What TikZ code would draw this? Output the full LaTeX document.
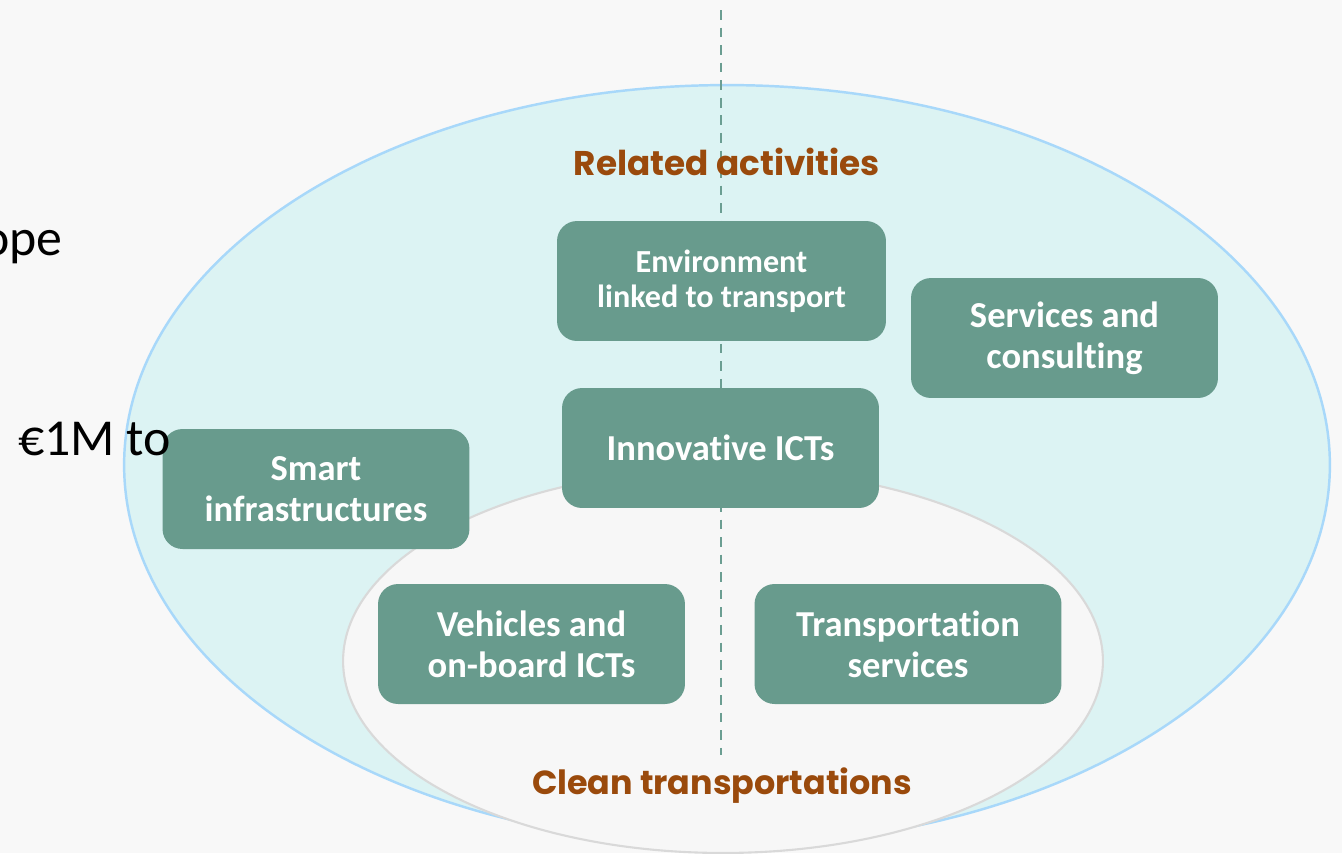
\documentclass[tikz,border=0pt]{standalone}
\usepackage{fontspec}
\setmainfont[Ligatures=NoCommon]{Carlito}
\newfontfamily\gothic{Poppins}
\definecolor{bgc}{HTML}{F8F8F8}
\definecolor{outerfill}{HTML}{DCF3F3}
\definecolor{outerline}{HTML}{A8D8FA}
\definecolor{innerfill}{HTML}{F7F7F7}
\definecolor{innerline}{HTML}{D9D9D9}
\definecolor{boxfill}{HTML}{689B8D}
\definecolor{dashc}{HTML}{6B9E92}
\definecolor{brownc}{HTML}{9A4A0C}
\tikzset{
  greenbox/.style={fill=boxfill, draw=none, rounded corners=0.4cm, text=white,
    font=\bfseries\fontsize{20.8}{23.2}\selectfont, align=center,
    minimum width=6.14cm, minimum height=2.4cm, inner sep=0pt},
  smallbox/.style={greenbox, font=\bfseries\fontsize{18.3}{19.8}\selectfont, minimum width=6.58cm},
  grouplabel/.style={text=brownc, font=\gothic\bfseries\fontsize{19.5}{22}\selectfont, inner sep=0pt},
  sidetext/.style={text=black, font=\fontsize{29.5}{34}\selectfont, inner sep=0pt},
  divider/.style={draw=dashc, line width=1.3pt, dash pattern=on 5.5pt off 4.5pt}
}
\begin{document}
\begin{tikzpicture}[x=0.02cm, y=-0.02cm]
\useasboundingbox (0,0) rectangle (1342,853);
\fill[bgc] (0,0) rectangle (1342,853);
% outer ellipse
\draw[fill=outerfill, draw=outerline, line width=1.4pt] (727,465) ellipse [x radius=12.06cm, y radius=7.6cm];
% inner ellipse
\draw[fill=innerfill, draw=innerline, line width=1.2pt] (723,661) ellipse [x radius=7.6cm, y radius=3.84cm];
% dashed divider
\coordinate (dtop) at (721,10);
\coordinate (dbot) at (721,755);
\draw[divider] (dtop) -- (dbot);
% boxes
\node[smallbox] (env) at (721.5,281) {Environment\\linked to transport};
\node[greenbox] (serv) at (1064.5,338) {Services and\\consulting};
\node[greenbox, minimum width=6.34cm] (ict) at (720.5,448) {Innovative ICTs};
\node[greenbox] (smart) at (316,489) {Smart\\infrastructures};
\node[greenbox] (veh) at (531.5,644) {Vehicles and\\on-board ICTs};
\node[greenbox] (trans) at (908,644) {Transportation\\services};
% labels
\node[grouplabel] (rel) at (727,162) {Related activities};
\node[grouplabel, font=\gothic\bfseries\fontsize{19}{22}\selectfont] (clean) at (722,786) {Clean transportations};
% side texts
\node[sidetext, anchor=base east] (ope) at (63,255) {ope};
\node[sidetext, anchor=base west] (eur) at (18,455) {€1M to};
\end{tikzpicture}
\end{document}
